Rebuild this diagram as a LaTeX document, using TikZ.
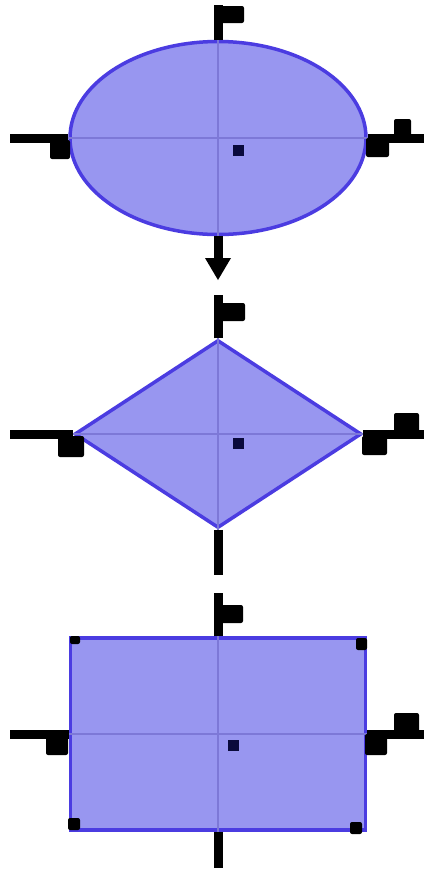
\documentclass[tikz,border=0pt]{standalone}
\usetikzlibrary{shapes.geometric}
\definecolor{shapefill}{RGB}{152,150,240}
\definecolor{shapeedge}{RGB}{75,60,225}
\definecolor{axisline}{RGB}{125,120,215}
\definecolor{dotcol}{RGB}{10,10,60}
\tikzset{
  shp/.style={draw=shapeedge, fill=shapefill, line width=3.5pt, inner sep=0pt},
  axis/.style={draw=axisline, line width=1.8pt},
  stub/.style={draw=black, line width=9pt},
  blob/.style={fill=black, rounded corners=2pt},
  cdot/.style={fill=dotcol, minimum size=11pt, inner sep=0pt},
}
\begin{document}
\begin{tikzpicture}[x=1pt,y=-1pt]
\useasboundingbox (0,0) rectangle (424,871);
\fill[white] (0,0) rectangle (424,871);

% ---------- ellipse ----------
\node[shp, ellipse, minimum width=296pt, minimum height=193pt] (el) at (218,138) {};
\draw[axis] (el.west) -- (el.east);
\draw[axis] (el.north) -- (el.south);
\node[cdot] (elc) at (238,150) {};
\coordinate (elN) at (218,5);
\coordinate (elS) at (218,272);
\coordinate (elW) at (10,138);
\coordinate (elE) at (424,138);
\draw[stub] (el.north) -- (elN);
\draw[stub] (el.west) -- (elW);
\draw[stub] (el.east) -- (elE);
\draw[stub] (el.south) -- (elS);
\fill (205,258) -- (231,258) -- (218,280) -- cycle;
\fill[blob] (220,6) rectangle (244,23);
\fill[blob] (50,140) rectangle (70,159);
\fill[blob] (366,138) rectangle (389,157);
\fill[blob] (394,119) rectangle (411,138);

% ---------- diamond ----------
\node[shp, diamond, minimum width=287pt, minimum height=188pt] (dm) at (218,434) {};
\draw[axis] (dm.west) -- (dm.east);
\draw[axis] (dm.north) -- (dm.south);
\node[cdot] (dmc) at (238,443) {};
\coordinate (dmN) at (218,295);
\coordinate (dmS) at (218,575);
\coordinate (dmW) at (10,434);
\coordinate (dmE) at (424,434);
\draw[stub] (dm.north) -- (dmN);
\draw[stub] (dm.west) -- (dmW);
\draw[stub] (dm.east) -- (dmE);
\draw[stub] (dm.south) -- (dmS);
\fill[blob] (220,303) rectangle (245,321);
\fill[blob] (58,436) rectangle (84,457);
\fill[blob] (362,436) rectangle (387,455);
\fill[blob] (394,413) rectangle (419,436);

% ---------- rectangle ----------
\node[shp, rectangle, minimum width=295pt, minimum height=192pt] (rc) at (218,734) {};
\draw[axis] (rc.west) -- (rc.east);
\draw[axis] (rc.north) -- (rc.south);
\node[cdot] (rcc) at (233,745) {};
\coordinate (rcN) at (218,593);
\coordinate (rcS) at (218,868);
\coordinate (rcW) at (10,734);
\coordinate (rcE) at (424,734);
\draw[stub] (rc.north) -- (rcN);
\draw[stub] (rc.west) -- (rcW);
\draw[stub] (rc.east) -- (rcE);
\draw[stub] (rc.south) -- (rcS);
\fill[blob] (220,605) rectangle (243,623);
\fill[blob] (46,734) rectangle (68,755);
\fill[blob] (365,734) rectangle (387,755);
\fill[blob] (394,713) rectangle (419,734);
\fill[blob] (70,636) rectangle (80,644);
\fill[blob] (356,638) rectangle (367,650);
\fill[blob] (68,818) rectangle (80,830);
\fill[blob] (350,822) rectangle (362,834);
\end{tikzpicture}
\end{document}
